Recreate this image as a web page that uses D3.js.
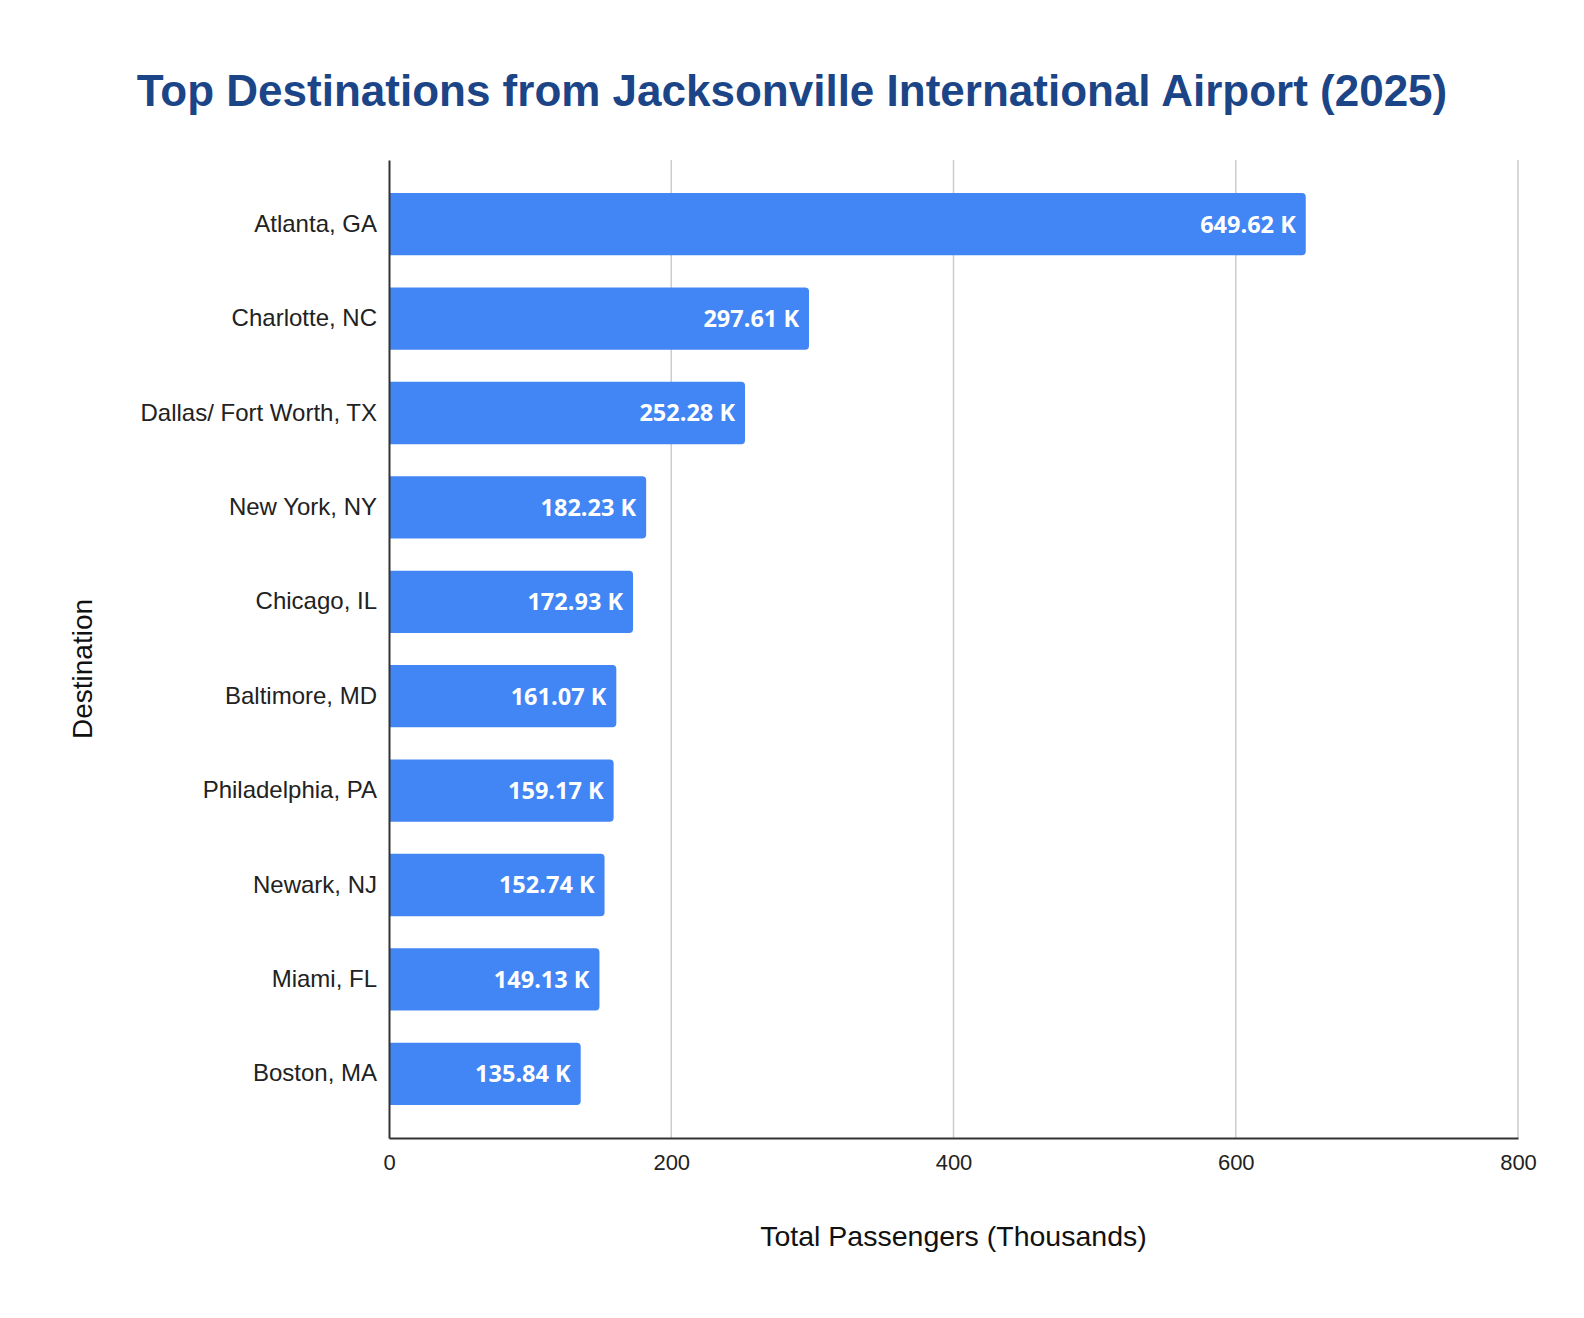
<!DOCTYPE html>
<html>
<head>
<meta charset="utf-8">
<script src="https://cdn.jsdelivr.net/npm/d3@7"></script>
<style>
  body { margin: 0; background: #fff; }
</style>
</head>
<body>
<svg id="chart"></svg>
<script>
const destinations = ["Atlanta, GA", "Charlotte, NC", "Dallas/ Fort Worth, TX", "New York, NY",
  "Chicago, IL", "Baltimore, MD", "Philadelphia, PA", "Newark, NJ", "Miami, FL", "Boston, MA"]
const passengers = [649.62, 297.61, 252.28, 182.23, 172.93, 161.07, 159.17, 152.74, 149.13, 135.84]
const xTicks = [0, 200, 400, 600, 800]

const width = 1584
const height = 1318
const margin = { top: 160, right: 66, bottom: 180, left: 389 }

const svg = d3.select('#chart')
    .attr('width', width)
    .attr('height', height)

const x = d3.scaleLinear()
    .domain([0, 800])
    .range([margin.left, width - margin.right])

const y = d3.scaleBand()
    .domain(destinations)
    .range([margin.top, height - margin.bottom])
    .paddingInner(0.34)
    .paddingOuter(0.35)

// gridlines
svg.append('g')
  .selectAll('line')
  .data(xTicks.slice(1))
  .join('line')
    .attr('x1', d => x(d))
    .attr('x2', d => x(d))
    .attr('y1', margin.top)
    .attr('y2', height - margin.bottom)
    .attr('stroke', '#cccccc')
    .attr('stroke-width', 1.5)

// bars, rounded on the right end only
const r = 4
const barPath = (d, i) => {
  const x0 = x(0), x1 = x(d), y0 = y(destinations[i]), h = y.bandwidth()
  return `M${x0},${y0}H${x1 - r}Q${x1},${y0} ${x1},${y0 + r}V${y0 + h - r}Q${x1},${y0 + h} ${x1 - r},${y0 + h}H${x0}Z`
}
svg.append('g')
  .selectAll('path')
  .data(passengers)
  .join('path')
    .attr('d', barPath)
    .attr('fill', '#4285f4')

// value labels
svg.append('g')
    .attr('font-family', '"Open Sans", sans-serif')
    .attr('font-weight', 'bold')
    .attr('font-size', 23.5)
    .attr('fill', '#fff')
    .attr('text-anchor', 'end')
  .selectAll('text')
  .data(passengers)
  .join('text')
    .attr('x', d => x(d) - 10)
    .attr('y', (d, i) => y(destinations[i]) + y.bandwidth() / 2)
    .attr('dy', '0.36em')
    .text(d => d3.format('.2f')(d) + ' K')

// y axis
const yAxis = svg.append('g')
    .attr('transform', `translate(${margin.left},0)`)
    .call(d3.axisLeft(y).tickSize(0).tickPadding(12))
yAxis.select('.domain').attr('stroke', '#333').attr('stroke-width', 2)
yAxis.selectAll('text')
    .attr('font-family', '"Liberation Sans", Arial, sans-serif')
    .attr('font-size', 24)
    .attr('fill', '#222')

// x axis
const xAxis = svg.append('g')
    .attr('transform', `translate(0,${height - margin.bottom})`)
    .call(d3.axisBottom(x).tickValues(xTicks).tickSize(0).tickPadding(16))
xAxis.select('.domain').attr('stroke', '#333').attr('stroke-width', 2)
xAxis.selectAll('text')
    .attr('font-family', '"Liberation Sans", Arial, sans-serif')
    .attr('font-size', 22)
    .attr('fill', '#222')

// axis titles
svg.append('text')
    .attr('x', (x(0) + x(800)) / 2)
    .attr('y', 1246)
    .attr('text-anchor', 'middle')
    .attr('font-family', '"Liberation Sans", Arial, sans-serif')
    .attr('font-size', 28.5)
    .attr('fill', '#111')
    .text('Total Passengers (Thousands)')

svg.append('text')
    .attr('transform', 'translate(92,669) rotate(-90)')
    .attr('text-anchor', 'middle')
    .attr('font-family', '"Liberation Sans", Arial, sans-serif')
    .attr('font-size', 28)
    .attr('fill', '#111')
    .text('Destination')

// title
svg.append('text')
    .attr('x', width / 2)
    .attr('y', 106)
    .attr('text-anchor', 'middle')
    .attr('font-family', '"Liberation Sans", Arial, sans-serif')
    .attr('font-weight', 'bold')
    .attr('font-size', 44)
    .attr('fill', '#1c4587')
    .text('Top Destinations from Jacksonville International Airport (2025)')
</script>
</body>
</html>
